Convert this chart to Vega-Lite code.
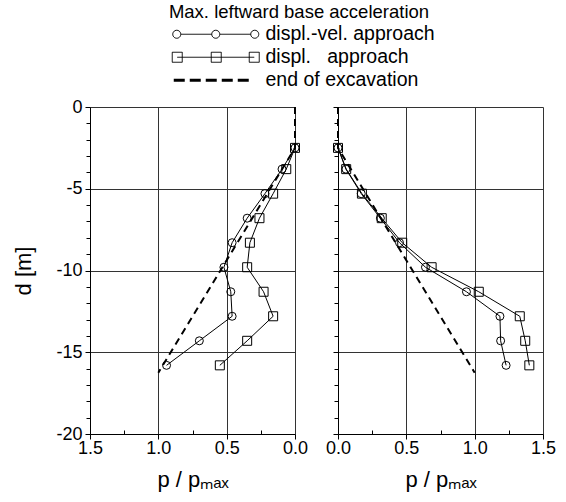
{
  "$schema": "https://vega.github.io/schema/vega-lite/v6.json",
  "padding": {"left": 12, "top": 3, "right": 5, "bottom": 5},
  "config": {
    "font": "Liberation Sans",
    "view": {"stroke": null},
    "axis": {
      "labelFont": "Liberation Sans", "titleFont": "Liberation Sans",
      "labelFontSize": 18, "titleFontSize": 22, "titleFontWeight": "normal",
      "labelColor": "black", "titleColor": "black",
      "domainColor": "black", "tickColor": "black",
      "gridColor": "#333333", "labelOverlap": false, "labelFlush": false
    },
    "text": {"font": "Liberation Sans"}
  },
  "datasets": {
    "pts": [
      {"wall": "Left", "series": "displ.-vel. approach", "p": 0.0, "d": -2.5},
      {"wall": "Left", "series": "displ.-vel. approach", "p": 0.095, "d": -3.8},
      {"wall": "Left", "series": "displ.-vel. approach", "p": 0.22, "d": -5.3},
      {"wall": "Left", "series": "displ.-vel. approach", "p": 0.35, "d": -6.8},
      {"wall": "Left", "series": "displ.-vel. approach", "p": 0.46, "d": -8.3},
      {"wall": "Left", "series": "displ.-vel. approach", "p": 0.52, "d": -9.8},
      {"wall": "Left", "series": "displ.-vel. approach", "p": 0.47, "d": -11.3},
      {"wall": "Left", "series": "displ.-vel. approach", "p": 0.46, "d": -12.8},
      {"wall": "Left", "series": "displ.-vel. approach", "p": 0.70, "d": -14.3},
      {"wall": "Left", "series": "displ.-vel. approach", "p": 0.94, "d": -15.8},
      {"wall": "Left", "series": "displ. approach", "p": 0.0, "d": -2.5},
      {"wall": "Left", "series": "displ. approach", "p": 0.064, "d": -3.8},
      {"wall": "Left", "series": "displ. approach", "p": 0.16, "d": -5.3},
      {"wall": "Left", "series": "displ. approach", "p": 0.26, "d": -6.8},
      {"wall": "Left", "series": "displ. approach", "p": 0.33, "d": -8.3},
      {"wall": "Left", "series": "displ. approach", "p": 0.35, "d": -9.8},
      {"wall": "Left", "series": "displ. approach", "p": 0.23, "d": -11.3},
      {"wall": "Left", "series": "displ. approach", "p": 0.16, "d": -12.8},
      {"wall": "Left", "series": "displ. approach", "p": 0.35, "d": -14.3},
      {"wall": "Left", "series": "displ. approach", "p": 0.55, "d": -15.8},
      {"wall": "Left", "series": "end of excavation", "p": 0.0, "d": 0},
      {"wall": "Left", "series": "end of excavation", "p": 0.0, "d": -2.5},
      {"wall": "Left", "series": "end of excavation", "p": 1.0, "d": -16.25},
      {"wall": "Right", "series": "displ.-vel. approach", "p": 0.0, "d": -2.5},
      {"wall": "Right", "series": "displ.-vel. approach", "p": 0.058, "d": -3.8},
      {"wall": "Right", "series": "displ.-vel. approach", "p": 0.17, "d": -5.3},
      {"wall": "Right", "series": "displ.-vel. approach", "p": 0.31, "d": -6.8},
      {"wall": "Right", "series": "displ.-vel. approach", "p": 0.45, "d": -8.3},
      {"wall": "Right", "series": "displ.-vel. approach", "p": 0.64, "d": -9.8},
      {"wall": "Right", "series": "displ.-vel. approach", "p": 0.94, "d": -11.3},
      {"wall": "Right", "series": "displ.-vel. approach", "p": 1.185, "d": -12.8},
      {"wall": "Right", "series": "displ.-vel. approach", "p": 1.19, "d": -14.3},
      {"wall": "Right", "series": "displ.-vel. approach", "p": 1.23, "d": -15.8},
      {"wall": "Right", "series": "displ. approach", "p": 0.0, "d": -2.5},
      {"wall": "Right", "series": "displ. approach", "p": 0.06, "d": -3.8},
      {"wall": "Right", "series": "displ. approach", "p": 0.175, "d": -5.3},
      {"wall": "Right", "series": "displ. approach", "p": 0.32, "d": -6.8},
      {"wall": "Right", "series": "displ. approach", "p": 0.47, "d": -8.3},
      {"wall": "Right", "series": "displ. approach", "p": 0.685, "d": -9.8},
      {"wall": "Right", "series": "displ. approach", "p": 1.03, "d": -11.3},
      {"wall": "Right", "series": "displ. approach", "p": 1.33, "d": -12.8},
      {"wall": "Right", "series": "displ. approach", "p": 1.37, "d": -14.3},
      {"wall": "Right", "series": "displ. approach", "p": 1.40, "d": -15.8},
      {"wall": "Right", "series": "end of excavation", "p": 0.0, "d": 0},
      {"wall": "Right", "series": "end of excavation", "p": 0.0, "d": -2.5},
      {"wall": "Right", "series": "end of excavation", "p": 1.0, "d": -16.25}
    ]
  },
  "spacing": 17,
  "hconcat": [
    {
      "width": 205, "height": 327,
      "data": {"name": "pts"},
      "encoding": {
        "x": {"field": "p", "type": "quantitative", "title": "p / pₘₐₓ",
          "scale": {"domain": [0, 1.5], "reverse": true, "nice": false, "zero": false},
          "axis": {"values": [0, 0.25, 0.5, 0.75, 1, 1.25, 1.5],
            "labelExpr": "datum.value % 0.5 === 0 ? format(datum.value, '.1f') : ''",
            "gridOpacity": {"condition": {"test": "datum.value % 0.5 !== 0", "value": 0}, "value": 1},
            "tickSize": {"condition": {"test": "datum.value % 0.5 !== 0", "value": -4}, "value": 5},
            "labelPadding": 0, "titlePadding": 12}},
        "y": {"field": "d", "type": "quantitative", "title": "d [m]",
          "scale": {"domain": [-20, 0], "nice": false},
          "axis": {"values": [-20,-19,-18,-17,-16,-15,-14,-13,-12,-11,-10,-9,-8,-7,-6,-5,-4,-3,-2,-1,0],
            "labelExpr": "datum.value % 5 === 0 ? '' + datum.value : ''",
            "gridOpacity": {"condition": {"test": "datum.value % 5 !== 0", "value": 0}, "value": 1},
            "tickSize": {"condition": {"test": "datum.value % 5 !== 0", "value": 4}, "value": 5},
            "labelPadding": 3, "titleFontSize": 22, "titlePadding": 20}},
        "order": {"field": "d", "sort": "descending"}
      },
      "layer": [
        {
          "transform": [{"filter": "datum.wall === 'Left' && datum.series !== 'end of excavation'"}],
          "mark": {"type": "line", "strokeWidth": 1},
          "encoding": {
            "color": {"field": "series", "type": "nominal",
              "scale": {"domain": ["displ.-vel. approach", "displ. approach", "end of excavation"], "range": ["black", "black", "black"]},
              "legend": {
                "orient": "none", "legendX": 73, "legendY": -104,
                "title": "Max. leftward base acceleration", "titleLimit": 600, "labelLimit": 400,
                "titleFontSize": 18.5, "titleFontWeight": "normal", "titleFont": "Liberation Sans", "titleColor": "black",
                "titleAnchor": "middle", "titlePadding": 3,
                "labelFontSize": 19.5, "labelFont": "Liberation Sans", "labelColor": "black",
                "symbolSize": 4, "labelOffset": 83, "rowPadding": 2,
                "labelExpr": "datum.label === 'displ. approach' ? '\u00a0\u00a0\u00a0\u00a0\u00a0displ.\u00a0\u00a0\u00a0approach' : datum.label",
                "encode": {"symbols": {"update": {
                  "shape": {"signal": "datum.value === 'displ.-vel. approach' ? 'M0,0a4,4 0 1,0 8,0a4,4 0 1,0 -8,0M8,0H39M39,0a4,4 0 1,0 8,0a4,4 0 1,0 -8,0M47,0H78M78,0a4,4 0 1,0 8,0a4,4 0 1,0 -8,0' : datum.value === 'displ. approach' ? 'M-0.5,-5h10v10h-10zM38.5,-5h10v10h-10zM76.5,-5h10v10h-10zM4.5,0H81.5' : 'M1,0h11M17,0h11M33,0h11M49,0h11M65,0h11'"},
                  "strokeWidth": {"signal": "datum.value === 'end of excavation' ? 3 : 1"},
                  "stroke": {"value": "black"},
                  "fill": {"value": "transparent"},
                  "strokeDash": {"value": [1, 0]},
                  "opacity": {"value": 1}
                }}}
              }}
          }
        },
        {
          "transform": [{"filter": "datum.wall === 'Left' && datum.series === 'end of excavation'"}],
          "mark": {"type": "line", "strokeWidth": 2, "strokeDash": [7, 5], "color": "black"}
        },
        {
          "transform": [{"filter": "datum.wall === 'Left' && datum.series === 'displ.-vel. approach'"}],
          "mark": {"type": "point", "shape": "circle", "size": 64, "filled": false, "stroke": "black", "strokeWidth": 1, "opacity": 1}
        },
        {
          "transform": [{"filter": "datum.wall === 'Left' && datum.series === 'displ. approach'"}],
          "mark": {"type": "point", "shape": "square", "size": 81, "filled": false, "stroke": "black", "strokeWidth": 1, "opacity": 1}
        },
        {
          "data": {"values": [{"label": "Left diaphr. wall"}]},
          "mark": {"type": "text", "fontSize": 18, "align": "center", "baseline": "middle", "color": "black"},
          "encoding": {"x": {"datum": 0.84}, "y": {"datum": -18.1}, "text": {"field": "label"}, "order": null}
        }
      ]
    },
    {
      "width": 205, "height": 327,
      "data": {"name": "pts"},
      "encoding": {
        "x": {"field": "p", "type": "quantitative", "title": "p / pₘₐₓ",
          "scale": {"domain": [0, 1.5], "nice": false, "zero": false},
          "axis": {"values": [0, 0.25, 0.5, 0.75, 1, 1.25, 1.5],
            "labelExpr": "datum.value % 0.5 === 0 ? format(datum.value, '.1f') : ''",
            "gridOpacity": {"condition": {"test": "datum.value % 0.5 !== 0", "value": 0}, "value": 1},
            "tickSize": {"condition": {"test": "datum.value % 0.5 !== 0", "value": -4}, "value": 5},
            "labelPadding": 0, "titlePadding": 12}},
        "y": {"field": "d", "type": "quantitative", "title": null,
          "scale": {"domain": [-20, 0], "nice": false},
          "axis": {"values": [-20,-19,-18,-17,-16,-15,-14,-13,-12,-11,-10,-9,-8,-7,-6,-5,-4,-3,-2,-1,0],
            "labels": false,
            "gridOpacity": {"condition": {"test": "datum.value % 5 !== 0", "value": 0}, "value": 1},
            "tickSize": {"condition": {"test": "datum.value % 5 !== 0", "value": 4}, "value": 5}}},
        "order": {"field": "d", "sort": "descending"}
      },
      "layer": [
        {
          "transform": [{"filter": "datum.wall === 'Right' && datum.series !== 'end of excavation'"}],
          "mark": {"type": "line", "strokeWidth": 1, "color": "black"},
          "encoding": {"detail": {"field": "series", "type": "nominal"}}
        },
        {
          "transform": [{"filter": "datum.wall === 'Right' && datum.series === 'end of excavation'"}],
          "mark": {"type": "line", "strokeWidth": 2, "strokeDash": [7, 5], "color": "black"}
        },
        {
          "transform": [{"filter": "datum.wall === 'Right' && datum.series === 'displ.-vel. approach'"}],
          "mark": {"type": "point", "shape": "circle", "size": 64, "filled": false, "stroke": "black", "strokeWidth": 1, "opacity": 1}
        },
        {
          "transform": [{"filter": "datum.wall === 'Right' && datum.series === 'displ. approach'"}],
          "mark": {"type": "point", "shape": "square", "size": 81, "filled": false, "stroke": "black", "strokeWidth": 1, "opacity": 1}
        },
        {
          "data": {"values": [{"label": "Right diaphr. wall"}]},
          "mark": {"type": "text", "fontSize": 18, "align": "center", "baseline": "middle", "color": "black"},
          "encoding": {"x": {"datum": 0.77}, "y": {"datum": -18.1}, "text": {"field": "label"}, "order": null}
        }
      ]
    }
  ]
}
